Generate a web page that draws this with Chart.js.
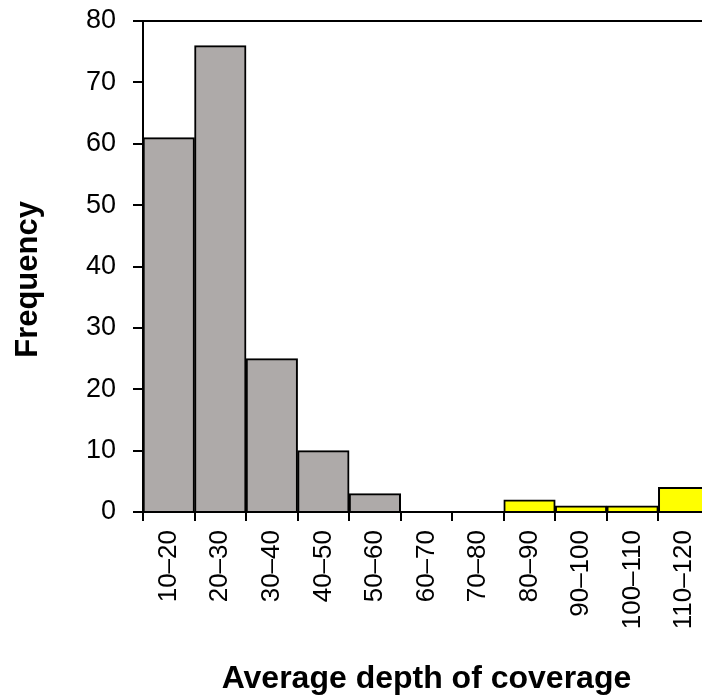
<!DOCTYPE html>
<html>
<head>
<meta charset="utf-8">
<script src="https://cdn.jsdelivr.net/npm/chart.js@4/dist/chart.umd.min.js"></script>
<style>
  html, body { margin: 0; padding: 0; background: #fff; overflow: hidden; }
  #wrap { width: 702px; height: 700px; overflow: hidden; position: relative; }
  canvas { position: absolute; left: 0; top: 0; }
</style>
</head>
<body>
<div id="wrap"><canvas id="c" width="725" height="700"></canvas></div>
<script>
// Histogram bins of average depth of coverage
const binLabels = ['10–20', '20–30', '30–40', '40–50', '50–60', '60–70', '70–80', '80–90', '90–100', '100–110', '110–120'];
const frequencies = [61, 76, 25, 10, 3, 0, 0, 2, 1, 1, 4];
// Bins from 80 upwards are highlighted
const highlightFrom = '80–90';
const yTicks = { min: 0, max: 80, step: 10 };

const GRAY = '#aeaaa9';
const YELLOW = '#ffff00';
const FONT = "'Liberation Sans', Arial, sans-serif";

const hiIndex = binLabels.indexOf(highlightFrom);
const barColors = binLabels.map((_, i) => (i >= hiIndex ? YELLOW : GRAY));

new Chart(document.getElementById('c'), {
  type: 'bar',
  data: {
    labels: binLabels,
    datasets: [{
      data: frequencies,
      backgroundColor: barColors,
      borderColor: '#000',
      borderWidth: 2,
      barPercentage: 1,
      categoryPercentage: 1
    }]
  },
  options: {
    responsive: false,
    animation: false,
    devicePixelRatio: 1,
    layout: { padding: 0 },
    plugins: { legend: { display: false }, tooltip: { enabled: false } },
    scales: {
      x: {
        type: 'category',
        position: 'bottom',
        offset: true,
        grid: { offset: true, drawOnChartArea: false, drawTicks: true, tickLength: 9, color: '#000', lineWidth: 2 },
        border: { display: true, color: '#000', width: 2 },
        ticks: {
          autoSkip: false, minRotation: 90, maxRotation: 90, padding: 9,
          color: '#000', font: { family: FONT, size: 26 }
        },
        title: {
          display: true, text: 'Average depth of coverage', color: '#000',
          font: { family: FONT, size: 32, weight: 'bold' }, padding: { top: 0, bottom: 2 }
        },
        afterFit: s => { s.height = 188; }
      },
      xTop: {
        type: 'category',
        position: 'top',
        offset: true,
        grid: { display: false },
        border: { display: true, color: '#000', width: 2 },
        ticks: { display: false },
        afterFit: s => { s.height = 21; }
      },
      y: {
        position: 'left',
        min: yTicks.min,
        max: yTicks.max,
        grid: { drawOnChartArea: false, drawTicks: true, tickLength: 10, color: '#000', lineWidth: 2 },
        border: { display: true, color: '#000', width: 2 },
        ticks: {
          stepSize: yTicks.step, padding: 17, color: '#000',
          font: { family: FONT, size: 27, lineHeight: 0.2 }
        },
        title: {
          display: true, text: 'Frequency   ', color: '#000',
          font: { family: FONT, size: 31, weight: 'bold' }, padding: { top: 10, bottom: 0 }
        },
        afterFit: s => { s.width = 143; }
      }
    }
  }
});
</script>
</body>
</html>
